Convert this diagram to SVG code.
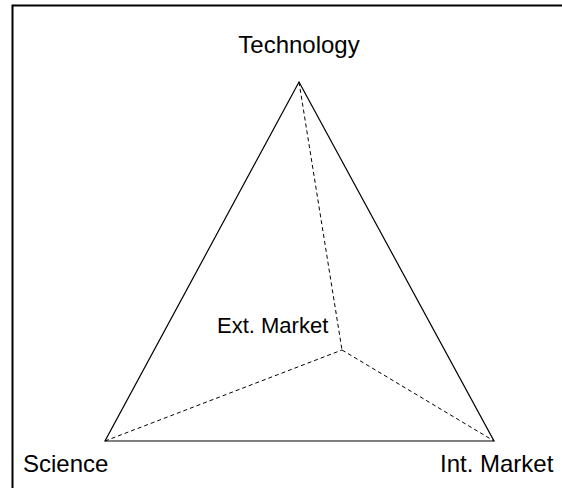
<svg xmlns="http://www.w3.org/2000/svg" width="562" height="488" viewBox="0 0 562 488">
<style>
text{font-family:"Liberation Sans",Arial,sans-serif;fill:#000}
.lbl{font-size:24px}
.solid{fill:none;stroke:#000;stroke-width:1.2}
.dash{fill:none;stroke:#000;stroke-width:1;stroke-dasharray:4,3}
</style>
<rect x="0" y="0" width="562" height="488" fill="#fff"/>
<rect x="12.5" y="5.5" width="560" height="500" fill="none" stroke="#000" stroke-width="2"/>
<g id="connectors">
<path class="solid" d="M299,82 L105,441 L494,441 Z"/>
<path class="dash" d="M299,82 L342,350 M105,441 L342,350 M342,350 L494,441"/>
</g>
<g id="technology"><text class="lbl" x="299" y="53" text-anchor="middle">Technology</text></g>
<g id="science"><text class="lbl" x="23" y="472">Science</text></g>
<g id="intmarket"><text class="lbl" x="440" y="472">Int. Market</text></g>
<g id="extmarket"><text x="217" y="333" font-size="22">Ext. Market</text></g>
</svg>
